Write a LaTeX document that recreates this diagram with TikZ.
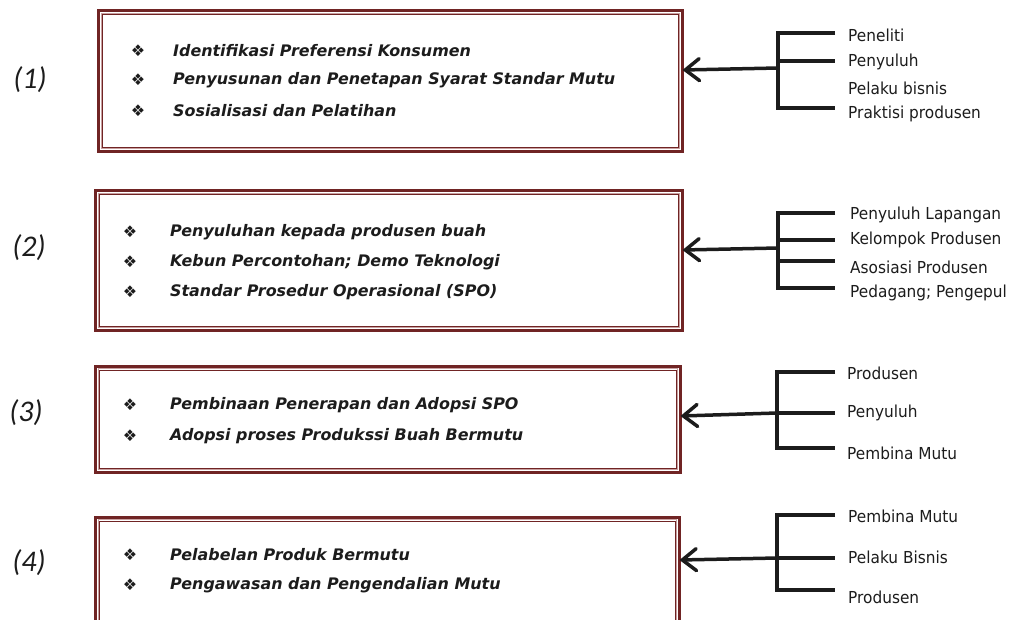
\documentclass[tikz,border=0pt]{standalone}
\usepackage{fontspec}
\usetikzlibrary{arrows.meta}
\newfontfamily\boxfont{DejaVu Sans}
\newfontfamily\sidefont[FakeStretch=0.93]{DejaVu Sans}
\newfontfamily\numfont{Carlito}
\definecolor{bord}{RGB}{112,36,36}
\definecolor{bordlight}{RGB}{200,160,160}
\definecolor{ink}{RGB}{28,28,28}
\tikzset{
  box/.style={draw=bord, line width=3pt, inner sep=0pt, outer sep=0pt},
  inbox/.style={draw=bord, line width=0.9pt},
  inpink/.style={draw=bordlight, line width=1pt},
  bul/.style={anchor=center, inner sep=0pt, font=\boxfont\fontsize{16}{17}\selectfont, text=ink},
  item/.style={anchor=west, inner sep=0pt, font=\boxfont\fontsize{15.9}{18}\selectfont\bfseries\itshape, text=ink},
  side/.style={anchor=west, inner sep=0pt, font=\sidefont\fontsize{16.5}{18}\selectfont, text=ink},
  num/.style={anchor=center, inner sep=0pt, font=\numfont\fontsize{30}{32}\selectfont\itshape, text=ink},
  brk/.style={draw=ink, line width=4pt},
  arr/.style={draw=ink, line width=3.5pt, -{Straight Barb[length=14pt, width=22pt, line cap=round]}},
}
\newcommand{\dblbox}[1]{%
  \draw[inpink] ([shift={(2.6,2.6)}]#1.north west) rectangle ([shift={(-2.6,-2.6)}]#1.south east);
  \draw[inbox] ([shift={(4,4)}]#1.north west) rectangle ([shift={(-4,-4)}]#1.south east);
}
\begin{document}
\begin{tikzpicture}[x=1pt,y=-1pt]
\useasboundingbox (0,0) rectangle (1012,619);
\clip (0,0) rectangle (1012,619);

% boxes
\node[box, minimum width=584pt, minimum height=141pt] (b1) at (390.5,81) {};
\node[box, minimum width=587pt, minimum height=140pt] (b2) at (389,260.5) {};
\node[box, minimum width=585pt, minimum height=106pt] (b3) at (388,419) {};
\node[box, minimum width=584pt, minimum height=130pt] (b4) at (387.5,582) {};
\dblbox{b1}\dblbox{b2}\dblbox{b3}\dblbox{b4}

% numbers
\node[num] (n1) at (30,80) {(1)};
\node[num] (n2) at (29,248) {(2)};
\node[num] (n3) at (26,413) {(3)};
\node[num] (n4) at (29,563) {(4)};

% box 1 items
\node[bul] (u11) at (138,51) {❖};
\node[item] (t11) at (173,51) {Identifikasi Preferensi Konsumen};
\node[bul] (u12) at (138,80) {❖};
\node[item] (t12) at (173,80) {Penyusunan dan Penetapan Syarat Standar Mutu};
\node[bul] (u13) at (138,111) {❖};
\node[item] (t13) at (173,111) {Sosialisasi dan Pelatihan};

% box 2 items
\node[bul] (u21) at (130,232) {❖};
\node[item] (t21) at (170,232) {Penyuluhan kepada produsen buah};
\node[bul] (u22) at (130,262) {❖};
\node[item] (t22) at (170,262) {Kebun Percontohan; Demo Teknologi};
\node[bul] (u23) at (130,292) {❖};
\node[item] (t23) at (170,292) {Standar Prosedur Operasional (SPO)};

% box 3 items
\node[bul] (u31) at (130,405) {❖};
\node[item] (t31) at (170,405) {Pembinaan Penerapan dan Adopsi SPO};
\node[bul] (u32) at (130,436) {❖};
\node[item] (t32) at (170,436) {Adopsi proses Produkssi Buah Bermutu};

% box 4 items
\node[bul] (u41) at (130,555) {❖};
\node[item] (t41) at (170,555) {Pelabelan Produk Bermutu};
\node[bul] (u42) at (130,585) {❖};
\node[item] (t42) at (170,585) {Pengawasan dan Pengendalian Mutu};

% side labels 1
\node[side] (s11) at (848,35) {Peneliti};
\node[side] (s12) at (848,62) {Penyuluh};
\node[side] (s13) at (848,88) {Pelaku bisnis};
\node[side] (s14) at (848,114) {Praktisi produsen};
% side labels 2
\node[side] (s21) at (850,215) {Penyuluh Lapangan};
\node[side] (s22) at (850,240) {Kelompok Produsen};
\node[side] (s23) at (850,267) {Asosiasi Produsen};
\node[side] (s24) at (850,293) {Pedagang; Pengepul};
% side labels 3
\node[side] (s31) at (847,373) {Produsen};
\node[side] (s32) at (847,413) {Penyuluh};
\node[side] (s33) at (847,453) {Pembina Mutu};
% side labels 4
\node[side] (s41) at (848,516) {Pembina Mutu};
\node[side] (s42) at (848,557) {Pelaku Bisnis};
\node[side] (s43) at (848,597) {Produsen};

% bracket 1
\coordinate (k1t) at (778,33);
\coordinate (k1b) at (778,108);
\coordinate (k1a) at (778,68);
\coordinate (e11) at (835,33);
\coordinate (e12) at (835,61);
\coordinate (e14) at (835,108);
\coordinate (k1m) at (778,61);
\draw[brk] (e11) -- (k1t) -- (k1b) -- (e14);
\draw[brk] (k1m) -- (e12);
\draw[arr] (k1a) -- (b1.east |- 0,70);

% bracket 2
\coordinate (k2t) at (778,213);
\coordinate (k2b) at (778,288);
\coordinate (k2a) at (778,248);
\coordinate (e21) at (835,213);
\coordinate (e22) at (835,240);
\coordinate (e23) at (835,261);
\coordinate (e24) at (835,288);
\draw[brk] (e21) -- (k2t) -- (k2b) -- (e24);
\draw[brk] (k2t |- e22) -- (e22);
\draw[brk] (k2t |- e23) -- (e23);
\draw[arr] (k2a) -- (b2.east |- 0,250);

% bracket 3
\coordinate (k3t) at (777,372);
\coordinate (k3b) at (777,448);
\coordinate (k3a) at (777,413);
\coordinate (e31) at (835,372);
\coordinate (e32) at (835,413);
\coordinate (e33) at (835,448);
\draw[brk] (e31) -- (k3t) -- (k3b) -- (e33);
\draw[brk] (k3a) -- (e32);
\draw[arr] (k3a) -- (b3.east |- 0,416);

% bracket 4
\coordinate (k4t) at (777,515);
\coordinate (k4b) at (777,590);
\coordinate (k4a) at (777,558);
\coordinate (e41) at (835,515);
\coordinate (e42) at (835,558);
\coordinate (e43) at (835,590);
\draw[brk] (e41) -- (k4t) -- (k4b) -- (e43);
\draw[brk] (k4a) -- (e42);
\draw[arr] (k4a) -- (b4.east |- 0,560);
\end{tikzpicture}
\end{document}
